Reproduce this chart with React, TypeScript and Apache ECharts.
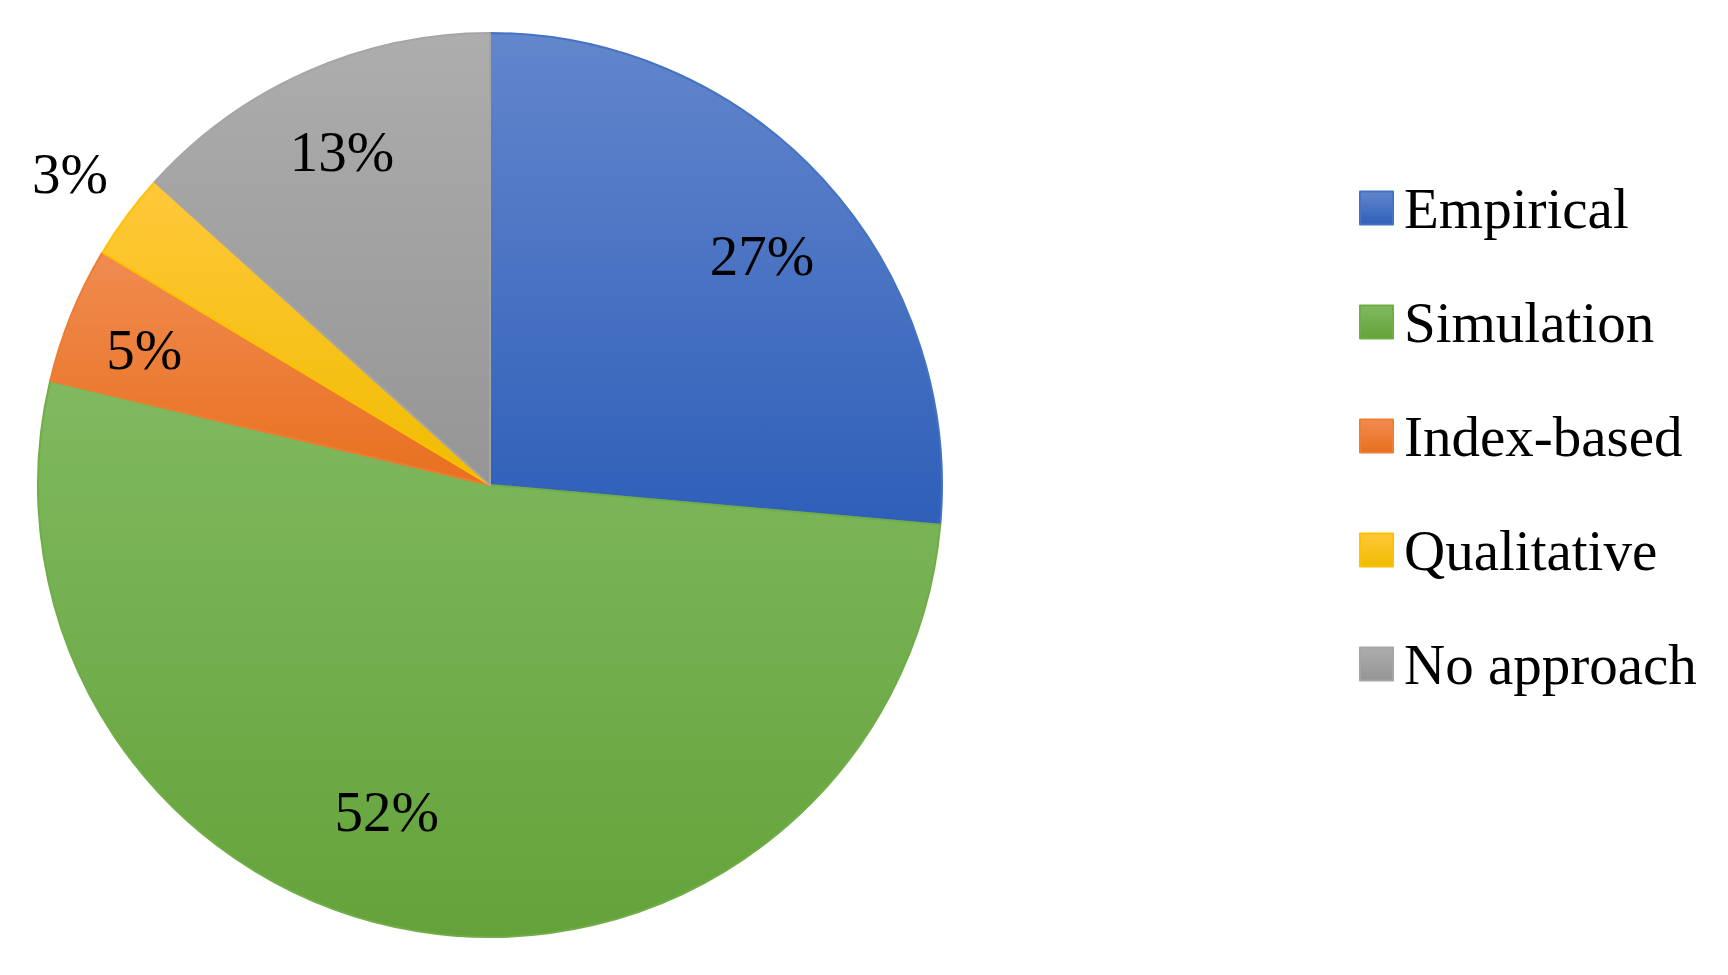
import React, { useEffect, useRef } from "react";
import * as echarts from "echarts";

const categories = ["Empirical", "Simulation", "Index-based", "Qualitative", "No approach"];
// shares
const values = [26.4, 52.3, 4.9, 3.1, 13.3];
// percentage labels as printed on the chart
const labelTexts = ["27%", "52%", "5%", "3%", "13%"];
const baseColors = ["#4472C4", "#70AD47", "#ED7D31", "#FFC000", "#A5A5A5"];
const topColors = ["#6386CC", "#80B960", "#F08B50", "#FFC83A", "#ADADAD"];
const bottomColors = ["#2F5FB9", "#64A33A", "#E8701F", "#F0BC00", "#959595"];
const outsideLabelItems = ["Qualitative"];
// small nudges of the data labels (best-fit placement in the original)
const labelNudges = [[3, 17], [-45, -33], [-8, 2], [0, 0], [0, 0]];

const FONT = "'Liberation Serif', 'Times New Roman', serif";

export default function App() {
  const ref = useRef<HTMLDivElement>(null);
  useEffect(() => {
    if (!ref.current) return;
    const chart = echarts.init(ref.current, null, { renderer: "svg" });
    const R = 452;
    const center = [490, 485];
    const grad = (i: number) =>
      new echarts.graphic.LinearGradient(0, 0, 0, 1, [
        { offset: 0, color: topColors[i] },
        { offset: 1, color: bottomColors[i] },
      ]);
    const mainData = categories.map((name, i) => ({
      name,
      value: values[i],
      itemStyle: { color: grad(i), borderColor: baseColors[i], borderWidth: 2 },
    }));
    const labelFmt = (p: any) => labelTexts[p.dataIndex];
    const labelStyle = {
      fontFamily: FONT,
      fontSize: 57,
      color: "#000",
      formatter: labelFmt,
    };
    const innerLabelData = categories.map((name, i) => ({
      name,
      value: values[i],
      label: { show: !outsideLabelItems.includes(name), offset: labelNudges[i] },
    }));
    const outerLabelData = categories.map((name, i) => ({
      name,
      value: values[i],
      label: { show: outsideLabelItems.includes(name), offset: labelNudges[i] },
    }));
    chart.setOption({
      animation: false,
      backgroundColor: "#ffffff",
      legend: {
        orient: "vertical",
        left: 1359,
        top: 178,
        padding: 0,
        itemWidth: 33,
        itemHeight: 33,
        itemGap: 54,
        icon: "rect",
        data: categories,
        textStyle: { fontFamily: FONT, fontSize: 57, color: "#000", lineHeight: 60, padding: [0, 0, 0, 6] },
        selectedMode: false,
      },
      series: [
        {
          type: "pie",
          center,
          radius: [0, R],
          startAngle: 90,
          clockwise: true,
          label: { show: false },
          labelLine: { show: false },
          data: mainData,
          silent: true,
        },
        {
          type: "pie",
          center,
          radius: [R * 0.6, R],
          startAngle: 90,
          clockwise: true,
          label: { position: "inside", ...labelStyle },
          labelLine: { show: false },
          itemStyle: { color: "transparent", borderWidth: 0 },
          data: innerLabelData,
          silent: true,
          z: 5,
        },
        {
          type: "pie",
          center,
          radius: [R, R * 1.3],
          startAngle: 90,
          clockwise: true,
          label: { position: "inside", ...labelStyle },
          labelLine: { show: false },
          itemStyle: { color: "transparent", borderWidth: 0 },
          data: outerLabelData,
          silent: true,
          z: 5,
        },
      ],
    });
    return () => chart.dispose();
  }, []);
  return (
    <div
      ref={ref}
      style={{ position: "absolute", left: 0, top: 0, width: 1728, height: 975, background: "#fff" }}
    />
  );
}
